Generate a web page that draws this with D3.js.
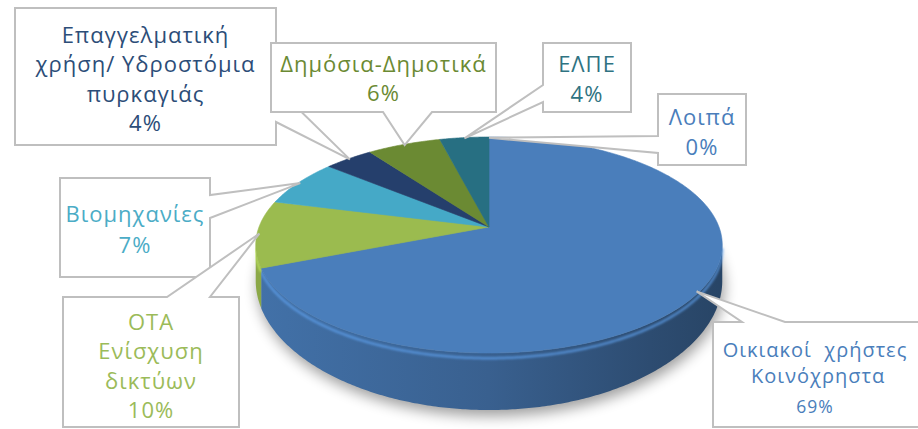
<!DOCTYPE html>
<html>
<head>
<meta charset="utf-8">
<script src="https://cdn.jsdelivr.net/npm/d3@7"></script>
<style>
  body { margin: 0; background: #fff; }
  svg { display: block; }
  .callout { fill: #fff; stroke: #bfbfbf; stroke-width: 2; stroke-linejoin: miter; }
  .lbl { font-family: "Open Sans", "Noto Sans", "DejaVu Sans", sans-serif; text-anchor: middle; letter-spacing: 1px; }
</style>
</head>
<body>
<div id="chart"></div>
<script>
// data, clockwise from 12 o'clock
var categories = ["Οικιακοί χρήστες Κοινόχρηστα", "ΟΤΑ Ενίσχυση δικτύων", "Βιομηχανίες",
  "Επαγγελματική χρήση/ Υδροστόμια πυρκαγιάς", "Δημόσια-Δημοτικά", "ΕΛΠΕ", "Λοιπά"];
var values = [69, 10, 7, 4, 6, 4, 0];
var nameLines = [
  ["Οικιακοί\u00a0 χρήστες", "\u00a0Κοινόχρηστα"],
  ["ΟΤΑ", "Ενίσχυση", "δικτύων"],
  ["Βιομηχανίες"],
  ["Επαγγελματική", "χρήση/ Υδροστόμια", "πυρκαγιάς"],
  ["Δημόσια-Δημοτικά"],
  ["ΕΛΠΕ"],
  ["Λοιπά"]
];
var sliceColors = ["#4a7ebb", "#9bbb4f", "#45a9c7", "#253f6c", "#6b8a33", "#276f82", "#4f81bd"];
var textColors = ["#4a7ebb", "#9bbb59", "#4bacc6", "#2c4d78", "#6b8a33", "#2f7382", "#4a7ebb"];

var width = 918, height = 429;

// pie geometry (perspective tilt)
var cx = 489, cy = 227, A = 230, B = 105, K = 0.1667, D = 33;

// callout layout: box, side carrying the pointer, pointer base along that side
var callouts = [
  {i: 3, x: 15,  y: 8,   w: 261, h: 137, side: "right",  b: [87, 122],  ty: 43,  lh: 29.3},
  {i: 4, x: 271, y: 43,  w: 225, h: 69,  side: "bottom", b: [383, 432], ty: 72,  lh: 28.5},
  {i: 5, x: 543, y: 43,  w: 88,  h: 69,  side: "left",   b: [85, 102],  ty: 72,  lh: 29.5},
  {i: 6, x: 658, y: 94,  w: 88,  h: 71,  side: "left",   b: [136, 153], ty: 125, lh: 30},
  {i: 2, x: 60,  y: 178, w: 150, h: 99,  side: "right",  b: [195, 218], ty: 222, lh: 31},
  {i: 1, x: 63,  y: 297, w: 176, h: 130, side: "top",    b: [167, 210], ty: 330, lh: 29.3},
  {i: 0, x: 713, y: 322, w: 215, h: 105, side: "top",    b: [742, 785], ty: 357, lh: 26, pctGap: 30,
   size: 20, pctSize: 17.5, cx: 815}
];

var svg = d3.select("#chart").append("svg")
  .attr("width", width)
  .attr("height", height);

var defs = svg.append("defs");
defs.append("filter").attr("id", "shadow")
  .attr("x", "-20%").attr("y", "-20%").attr("width", "140%").attr("height", "140%")
  .append("feGaussianBlur").attr("stdDeviation", 7);
defs.append("filter").attr("id", "soft")
  .append("feGaussianBlur").attr("stdDeviation", 1.2);

var xs = d3.scaleLinear().domain([-1, 1]).range([cx - A, cx + A]);
var ys = d3.scaleLinear().domain([-1, 1]).range([cy - B, cy + B]);

// project angle a (clockwise from top), radius fraction r, depth z
function P(a, r, z) {
  var u = Math.sin(a) * r, v = -Math.cos(a) * r, s = 1 / (1 - K * v);
  return [xs(u * s), ys(v * s) + z * Math.pow(s, 3)];
}
function arcPts(a0, a1, z) {
  var n = Math.max(2, Math.ceil(Math.abs(a1 - a0) / 0.01));
  return d3.range(n + 1).map(function(j) { return P(a0 + (a1 - a0) * j / n, 1, z); });
}
var line = d3.line();

var arcs = d3.pie().sort(null).value(function(d) { return d; })(values);

var pieG = svg.append("g").attr("id", "pie");

// shadow under the pie
pieG.append("path")
  .attr("d", line(arcPts(0, 2 * Math.PI, D)) + "Z")
  .attr("transform", "translate(2,6)")
  .attr("fill", "#000")
  .attr("opacity", 0.38)
  .attr("filter", "url(#shadow)");

// side walls (front half only)
var aL = Math.acos(-K), aR = 2 * Math.PI - aL;
arcs.forEach(function(d, i) {
  var b0 = Math.max(d.startAngle, aL), b1 = Math.min(d.endAngle, aR);
  if (b1 <= b0) return;
  var c = d3.color(sliceColors[i]);
  var grad = defs.append("linearGradient")
    .attr("id", "side" + i)
    .attr("gradientUnits", "userSpaceOnUse")
    .attr("x1", cx - A).attr("x2", cx + A).attr("y1", 0).attr("y2", 0);
  grad.append("stop").attr("offset", 0).attr("stop-color", c.darker(0.3));
  grad.append("stop").attr("offset", 0.5).attr("stop-color", c.darker(0.75));
  grad.append("stop").attr("offset", 0.85).attr("stop-color", c.darker(1.4));
  grad.append("stop").attr("offset", 1).attr("stop-color", c.darker(1.7));
  pieG.append("path")
    .attr("d", line(arcPts(b0, b1, 0).concat(arcPts(b1, b0, D))) + "Z")
    .attr("fill", "url(#side" + i + ")");
  // light rim along the top of the wall
  pieG.append("path")
    .attr("d", line(arcPts(b0, b1, 3)))
    .attr("fill", "none")
    .attr("stroke", c.brighter(0.7))
    .attr("stroke-opacity", 0.7)
    .attr("stroke-width", 2.5)
    .attr("filter", "url(#soft)");
});

// top faces
arcs.forEach(function(d, i) {
  if (d.endAngle - d.startAngle <= 0) return;
  var pts = [P(0, 0, 0)].concat(arcPts(d.startAngle, d.endAngle, 0));
  pieG.append("path")
    .attr("d", line(pts) + "Z")
    .attr("fill", sliceColors[i])
    .attr("stroke", sliceColors[i])
    .attr("stroke-width", 0.6);
});

// callouts
function calloutPath(c, tip) {
  var x0 = c.x, y0 = c.y, x1 = c.x + c.w, y1 = c.y + c.h, b = c.b, p = [];
  if (c.side == "top") {
    p = [[x0, y0], [b[0], y0], tip, [b[1], y0], [x1, y0], [x1, y1], [x0, y1]];
  } else if (c.side == "right") {
    p = [[x0, y0], [x1, y0], [x1, b[0]], tip, [x1, b[1]], [x1, y1], [x0, y1]];
  } else if (c.side == "bottom") {
    p = [[x0, y0], [x1, y0], [x1, y1], [b[1], y1], tip, [b[0], y1], [x0, y1]];
  } else {
    p = [[x0, y0], [x1, y0], [x1, y1], [x0, y1], [x0, b[1]], tip, [x0, b[0]]];
  }
  return line(p) + "Z";
}

var labG = svg.append("g").attr("id", "labels");
callouts.forEach(function(c) {
  var d = arcs[c.i];
  var mid = (d.startAngle + d.endAngle) / 2;
  var tip = P(mid, 0.99, 0);
  var g = labG.append("g");
  g.append("path")
    .attr("class", "callout")
    .attr("d", calloutPath(c, tip));
  var lines = nameLines[c.i];
  var tx = c.cx || (c.x + c.w / 2);
  var t = g.append("text")
    .attr("class", "lbl")
    .attr("fill", textColors[c.i])
    .style("font-size", (c.size || 22) + "px");
  lines.forEach(function(s, k) {
    t.append("tspan").attr("x", tx).attr("y", c.ty + k * c.lh).text(s);
  });
  g.append("text")
    .attr("class", "lbl")
    .attr("fill", textColors[c.i])
    .attr("x", tx)
    .attr("y", c.ty + (lines.length - 1) * c.lh + (c.pctGap || c.lh))
    .style("font-size", (c.pctSize || 22) + "px")
    .text(values[c.i] + "%");
});
</script>
</body>
</html>
